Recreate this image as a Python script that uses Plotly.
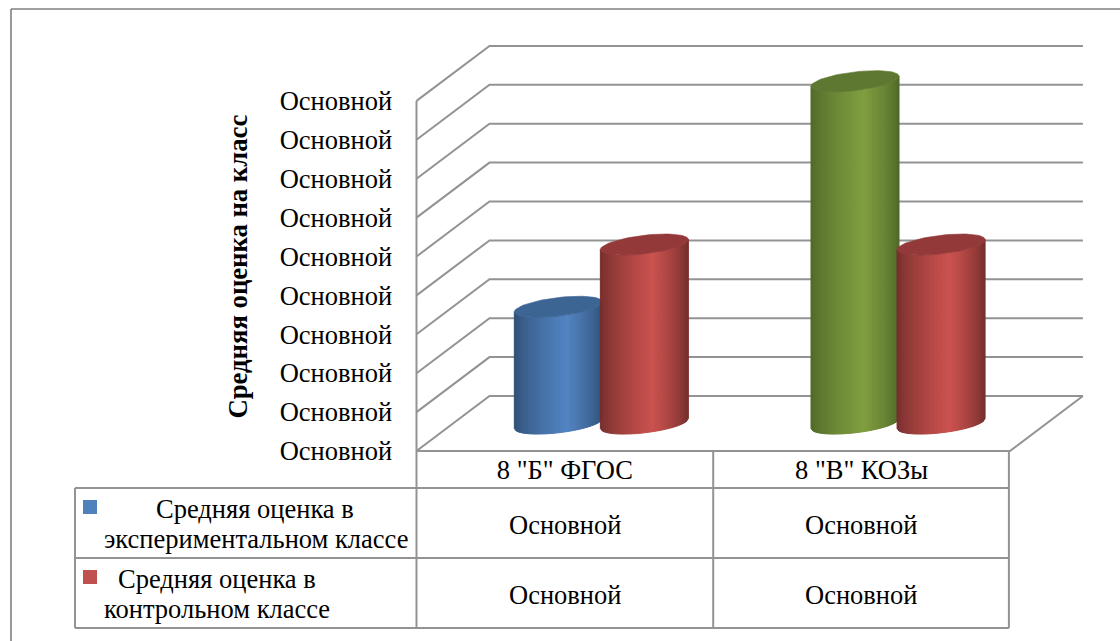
import math
import plotly.graph_objects as go

# ---- data ----
categories = ['8 "Б" ФГОС', '8 "В" КОЗы']
series_names = ["Средняя оценка в экспериментальном классе", "Средняя оценка в контрольном классе"]
experimental_values = [3.0, 8.8]
control_values = [4.6, 4.6]
tick_values = [0, 1, 2, 3, 4, 5, 6, 7, 8, 9]
tick_labels = ["Основной"] * 10
table_label = "Основной"
y_title = "Средняя оценка на класс"

# ---- page / scale ----
W, H = 1120, 641
PX_X0, PX_CAT = 416.5, 296.7   # pixel of category edge 0, pixels per category
PX_Y0, PX_UNIT = 451.0, 38.9   # pixel of value 0, pixels per value unit
DEPTH_X = 73.0 / PX_CAT        # oblique projection of full depth, in data units
DEPTH_Y = 55.0 / PX_UNIT
FONT = "Liberation Serif"
GRID = "#939393"
BLACK = "#000000"
FS = 26.5


def px(x):
    return x / W


def py(y):
    return 1 - y / H


def project(x, v, depth=0.0):
    return x + depth * DEPTH_X, v + depth * DEPTH_Y


def mix(c1, c2, f):
    return "rgb(%d,%d,%d)" % tuple(round(a + (b - a) * f) for a, b in zip(c1, c2))


fig = go.Figure()

# ---- walls and floor ----
n_cat = len(categories)
for v in tick_values:
    a = project(0, v, 0)
    b = project(0, v, 1)
    c = project(n_cat, v, 1)
    fig.add_trace(go.Scatter(x=[a[0], b[0], c[0]], y=[a[1], b[1], c[1]], mode="lines",
                             line=dict(color=GRID, width=2), hoverinfo="skip", showlegend=False))
p0, p1 = project(0, 0), project(0, tick_values[-1])
fig.add_trace(go.Scatter(x=[p0[0], p1[0]], y=[p0[1], p1[1]], mode="lines",
                         line=dict(color=GRID, width=2), hoverinfo="skip", showlegend=False))
fa, fb = project(n_cat, 0, 0), project(n_cat, 0, 1)
fig.add_trace(go.Scatter(x=[0, fa[0], fb[0]], y=[0, fa[1], fb[1]], mode="lines",
                         line=dict(color=GRID, width=2), hoverinfo="skip", showlegend=False))

# ---- cylinders ----
BAR_OFFSET = 0.145
A = 44.0 / PX_CAT           # half width in x units
B = 9.3 / PX_UNIT           # ellipse half height in value units
K = 5.0 / PX_UNIT           # tilt of the ellipse
STRIPS = 44

BLUE = dict(edge=(47, 78, 116), peak=(82, 132, 194), cap="#3d6594")
RED = dict(edge=(112, 45, 43), peak=(203, 82, 79), cap="#93393a")
GREEN = dict(edge=(78, 102, 40), peak=(128, 158, 64), cap="#5f7831")


def shade(f, col):
    # f in 0..1, dark at both edges, brightest a little right of the middle
    peak = 0.6
    d = f / peak if f < peak else (1 - f) / (1 - peak)
    return mix(col["edge"], col["peak"], d ** 0.7)


def ell(cx, v, t):
    return cx + A * math.cos(t), v + B * math.sin(t) + K * math.cos(t)


def cylinder(cat, offset, value, col):
    cx, base = project(cat + 0.5 + offset, 0, 0.5)
    top = base + value
    for i in range(STRIPS):
        # strips of equal width, running left to right along the lower half
        c1 = -1 + 2 * i / STRIPS
        c2 = -1 + 2 * (i + 1) / STRIPS
        t1 = 2 * math.pi - math.acos(c1)
        t2 = 2 * math.pi - math.acos(c2)
        b1, b2 = ell(cx, base, t1), ell(cx, base, t2)
        u1, u2 = ell(cx, top, t1), ell(cx, top, t2)
        c = shade((i + 0.5) / STRIPS, col)
        fig.add_trace(go.Scatter(x=[b1[0], b2[0], u2[0], u1[0], b1[0]],
                                 y=[b1[1], b2[1], u2[1], u1[1], b1[1]],
                                 mode="lines", fill="toself", fillcolor=c,
                                 line=dict(color=c, width=1),
                                 hoverinfo="skip", showlegend=False))
    pts = [ell(cx, top, 2 * math.pi * j / 72) for j in range(73)]
    fig.add_trace(go.Scatter(x=[p[0] for p in pts], y=[p[1] for p in pts], mode="lines",
                             fill="toself", fillcolor=col["cap"],
                             line=dict(color=col["cap"], width=0.6),
                             hoverinfo="skip", showlegend=False))


cylinder(0, -BAR_OFFSET, experimental_values[0], BLUE)
cylinder(0, BAR_OFFSET, control_values[0], RED)
cylinder(1, -BAR_OFFSET, experimental_values[1], GREEN)
cylinder(1, BAR_OFFSET, control_values[1], RED)

# ---- data table lines ----
TABLE_L, TABLE_R, COL_MID = 75, PX_X0 + n_cat * PX_CAT - 1, PX_X0 + PX_CAT
ROWS = [451, 488, 558, 628]
shapes = []


def line(x0, y0, x1, y1, width=2, color=GRID):
    shapes.append(dict(type="line", xref="paper", yref="paper", x0=px(x0), y0=py(y0), x1=px(x1), y1=py(y1),
                       line=dict(color=color, width=width)))


line(TABLE_L, ROWS[1], TABLE_R, ROWS[1])
line(TABLE_L, ROWS[2], TABLE_R, ROWS[2])
line(TABLE_L, ROWS[3], TABLE_R, ROWS[3])
line(TABLE_L, ROWS[1], TABLE_L, ROWS[3])
line(PX_X0, ROWS[0], PX_X0, ROWS[3])
line(COL_MID, ROWS[0], COL_MID, ROWS[3])
line(TABLE_R, ROWS[0], TABLE_R, ROWS[3])
# outer picture frame
line(11, 9, 11, 641, 1.6, "#7f7f7f")
line(11, 9, 1120, 9, 1.6, "#7f7f7f")

# legend keys
for y0, c in [(500, "#4f81bd"), (570, "#c0504d")]:
    shapes.append(dict(type="rect", xref="paper", yref="paper", x0=px(83), x1=px(97), y0=py(y0), y1=py(y0 + 14),
                       fillcolor=c, line=dict(width=0)))

# ---- text ----
annotations = []


def text(s, x, y, anchor="center", size=FS, bold=False, angle=0):
    annotations.append(dict(text=f"<b>{s}</b>" if bold else s, xref="paper", yref="paper", x=px(x), y=py(y),
                            xanchor=anchor, yanchor="middle", showarrow=False, textangle=angle,
                            font=dict(family=FONT, size=size, color=BLACK)))


for row_y in (525, 595):
    for cx in (564.5, 861):
        text(table_label, cx, row_y)
text("Средняя оценка в", 154, 509, "left")
text("экспериментальном классе", 101.5, 539, "left")
text("Средняя оценка в", 116, 579, "left")
text("контрольном классе", 101.5, 609, "left")
text(y_title, 237, 266.5, size=26.7, bold=True, angle=-90)

# ---- layout: axes fill the page so scale = pixels ----
fig.update_layout(
    width=W, height=H, autosize=False,
    margin=dict(l=0, r=0, t=0, b=0),
    paper_bgcolor="white", plot_bgcolor="rgba(0,0,0,0)",
    showlegend=False, shapes=shapes, annotations=annotations,
    xaxis=dict(
        domain=[0, 1], range=[-PX_X0 / PX_CAT, (W - PX_X0) / PX_CAT],
        anchor="free", position=py(PX_Y0),
        tickmode="array", tickvals=[0.5, 1.5], ticktext=categories,
        ticks="", ticklabelstandoff=0,
        showgrid=False, zeroline=False, showline=False,
        tickfont=dict(family=FONT, size=FS, color=BLACK),
    ),
    yaxis=dict(
        domain=[0, 1], range=[-(H - PX_Y0) / PX_UNIT, PX_Y0 / PX_UNIT],
        anchor="free", position=px(PX_X0),
        tickmode="array", tickvals=tick_values, ticktext=tick_labels,
        ticks="outside", ticklen=19, tickcolor="rgba(0,0,0,0)",
        showgrid=False, zeroline=False, showline=False,
        tickfont=dict(family=FONT, size=FS, color=BLACK),
    ),
)

fig.write_html("out.html", config=dict(displayModeBar=False),
               post_script="document.body.style.margin='0';document.body.style.overflow='hidden';")
